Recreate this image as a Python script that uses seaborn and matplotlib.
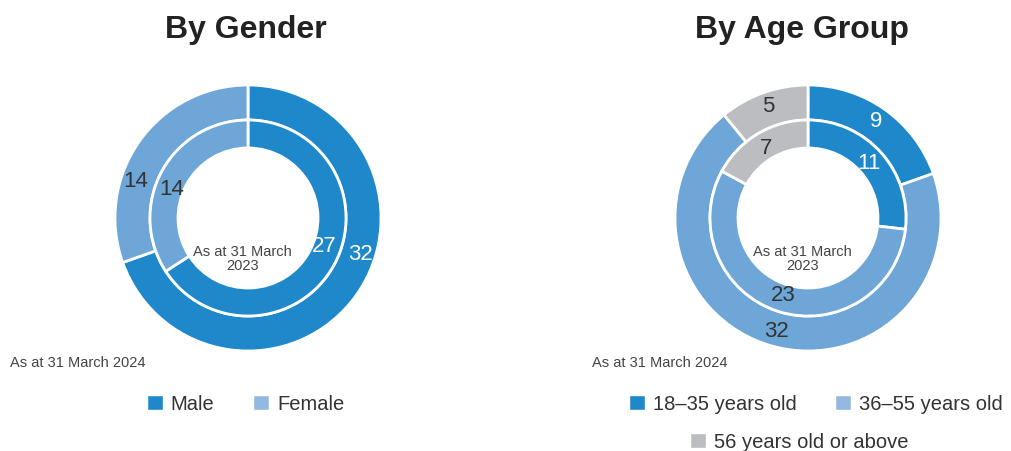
import matplotlib
matplotlib.use("Agg")
import numpy as np
import matplotlib.pyplot as plt
from matplotlib.patches import Patch
import seaborn as sns

# ------------------- Data -------------------
gender_labels = ["Male", "Female"]
gender_2024 = [32, 14]
gender_2023 = [27, 14]

age_labels = ["18–35 years old", "36–55 years old", "56 years old or above"]
age_2024 = [9, 32, 5]
age_2023 = [11, 23, 7]

# ------------------- Style -------------------
sns.set_theme(style="white")
plt.rcParams['font.family'] = ['Liberation Sans', 'DejaVu Sans']

wedge_colors = sns.color_palette(["#1f88ca", "#6ea6d7", "#bcbdc0"])
legend_colors = sns.color_palette(["#1f88ca", "#94b9e1", "#bcbdc0"])
label_colors = ["white", "#333333", "#333333"]
text_dark = "#333333"

fig = plt.figure(figsize=(10.11, 4.51), dpi=100)

W, H = 1011, 451
R = 133  # outer radius in px


def rotate_labels(texts, shift_deg, colors):
    # nudge value labels around the ring (counter-clockwise by shift_deg)
    for i, t in enumerate(texts):
        x, y = t.get_position()
        r = np.hypot(x, y)
        a = np.arctan2(y, x) + np.deg2rad(shift_deg)
        t.set_position((r * np.cos(a), r * np.sin(a)))
        t.set_color(colors[i])
        t.set_fontsize(16)


def donut(cx, cy, outer, inner, title, title_x, shift_o=0, shift_i=0):
    ax = fig.add_axes([(cx - R) / W, (H - cy - R) / H, 2 * R / W, 2 * R / H])
    n = len(outer)
    props = dict(edgecolor="white", linewidth=2)

    # outer ring (2024)
    tot_o = sum(outer)
    _, _, txt_o = ax.pie(outer, radius=1.0, colors=wedge_colors[:n], startangle=90,
                         counterclock=False, autopct=lambda p: f"{round(p * tot_o / 100)}",
                         pctdistance=0.887, wedgeprops=dict(width=35 / R, **props))
    # inner ring (2023)
    tot_i = sum(inner)
    r_in = 98 / R
    _, _, txt_i = ax.pie(inner, radius=r_in, colors=wedge_colors[:n], startangle=90,
                         counterclock=False, autopct=lambda p: f"{round(p * tot_i / 100)}",
                         pctdistance=0.83, wedgeprops=dict(width=28 / R, **props))
    rotate_labels(txt_o, shift_o, label_colors)
    rotate_labels(txt_i, shift_i, label_colors)

    ax.text(-0.04, -0.31, "As at 31 March\n2023", ha="center", va="center",
            fontsize=10.5, color="#444444", linespacing=1.0)
    ax.set_xlim(-1, 1)
    ax.set_ylim(-1, 1)
    ax.set_axis_off()

    fig.text(title_x / W, 1 - 30 / H, title, ha="center", va="center",
             fontsize=23, fontweight="bold", color="#222222")
    fig.text((cx - R - 105 if cx < 500 else cx - R - 83) / W, 1 - 363 / H,
             "As at 31 March 2024", ha="left", va="center", fontsize=10.5, color="#444444")
    return ax


donut(248, 218, gender_2024, gender_2023, "By Gender", 246, shift_o=17, shift_i=8)
donut(808, 218, age_2024, age_2023, "By Age Group", 802)

leg_kw = dict(loc="center", frameon=False, fontsize=14.5, handlelength=0.8,
              handleheight=0.8, handletextpad=0.4, columnspacing=1.9, labelcolor=text_dark)

h_gender = [Patch(facecolor=legend_colors[i], label=gender_labels[i]) for i in range(2)]
fig.legend(handles=h_gender, ncol=2, bbox_to_anchor=(245.5 / W, 1 - 404 / H), **leg_kw)

h_age = [Patch(facecolor=legend_colors[i], label=age_labels[i]) for i in range(3)]
fig.legend(handles=h_age[:2], ncol=2, bbox_to_anchor=(816 / W, 1 - 404 / H), **leg_kw)
fig.legend(handles=h_age[2:], ncol=1, bbox_to_anchor=(799 / W, 1 - 442 / H), **leg_kw)

fig.savefig("out.png", dpi=100, facecolor="white")
